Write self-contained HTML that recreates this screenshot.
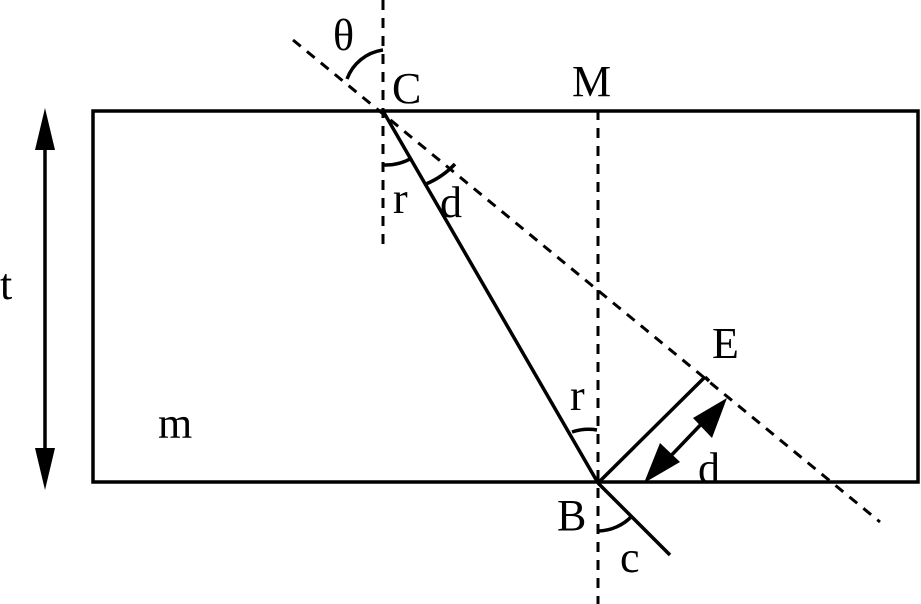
<!DOCTYPE html>
<html><head><style>body{margin:0;background:#fff}svg{display:block}</style></head><body>
<svg width="921" height="604" viewBox="0 0 921 604" xmlns="http://www.w3.org/2000/svg" font-family="Liberation Serif, serif" font-size="44">
<g stroke="#000" stroke-width="3.5" fill="none">
<rect x="93" y="111" width="825" height="371"/>
<line x1="383" y1="111" x2="598" y2="483"/>
<line x1="598" y1="483" x2="670" y2="555"/>
<line x1="598" y1="483" x2="705" y2="377"/>
<line x1="705" y1="377" x2="709" y2="381"/>
<line x1="45" y1="130" x2="45" y2="468"/>
<line x1="665" y1="462" x2="708" y2="417"/>
<path d="M383 50 A45 45 0 0 0 347 79"/>
<path d="M383 165 A54 54 0 0 0 412 158"/>
<path d="M426 184 A85 85 0 0 0 455 164"/>
<path d="M572 432 A52 52 0 0 1 597 430"/>
<path d="M598 531 A48 48 0 0 0 632 516"/>
</g>
<g stroke="#000" stroke-width="3" stroke-dasharray="10,8" fill="none">
<line x1="383" y1="0" x2="383" y2="250"/>
<line x1="598" y1="110" x2="598" y2="604"/>
<line x1="293" y1="40" x2="880" y2="522"/>
</g>
<g fill="#000">
<polygon points="45,108 35,150 55,150"/>
<polygon points="45,490 35,448 55,448"/>
<polygon points="727,398 693,418 712,438"/>
<polygon points="644,483 660,443 680,462"/>
</g>
<g fill="#000">
<text x="333" y="50">θ</text>
<text x="392" y="103">C</text>
<text x="572" y="96">M</text>
<text x="393" y="213">r</text>
<text x="440" y="217">d</text>
<text x="0" y="299">t</text>
<text x="712" y="358">E</text>
<text x="570" y="410">r</text>
<text x="158" y="438">m</text>
<text x="698" y="483">d</text>
<text x="557" y="530">B</text>
<text x="620" y="572">c</text>
</g>
</svg>
</body></html>
